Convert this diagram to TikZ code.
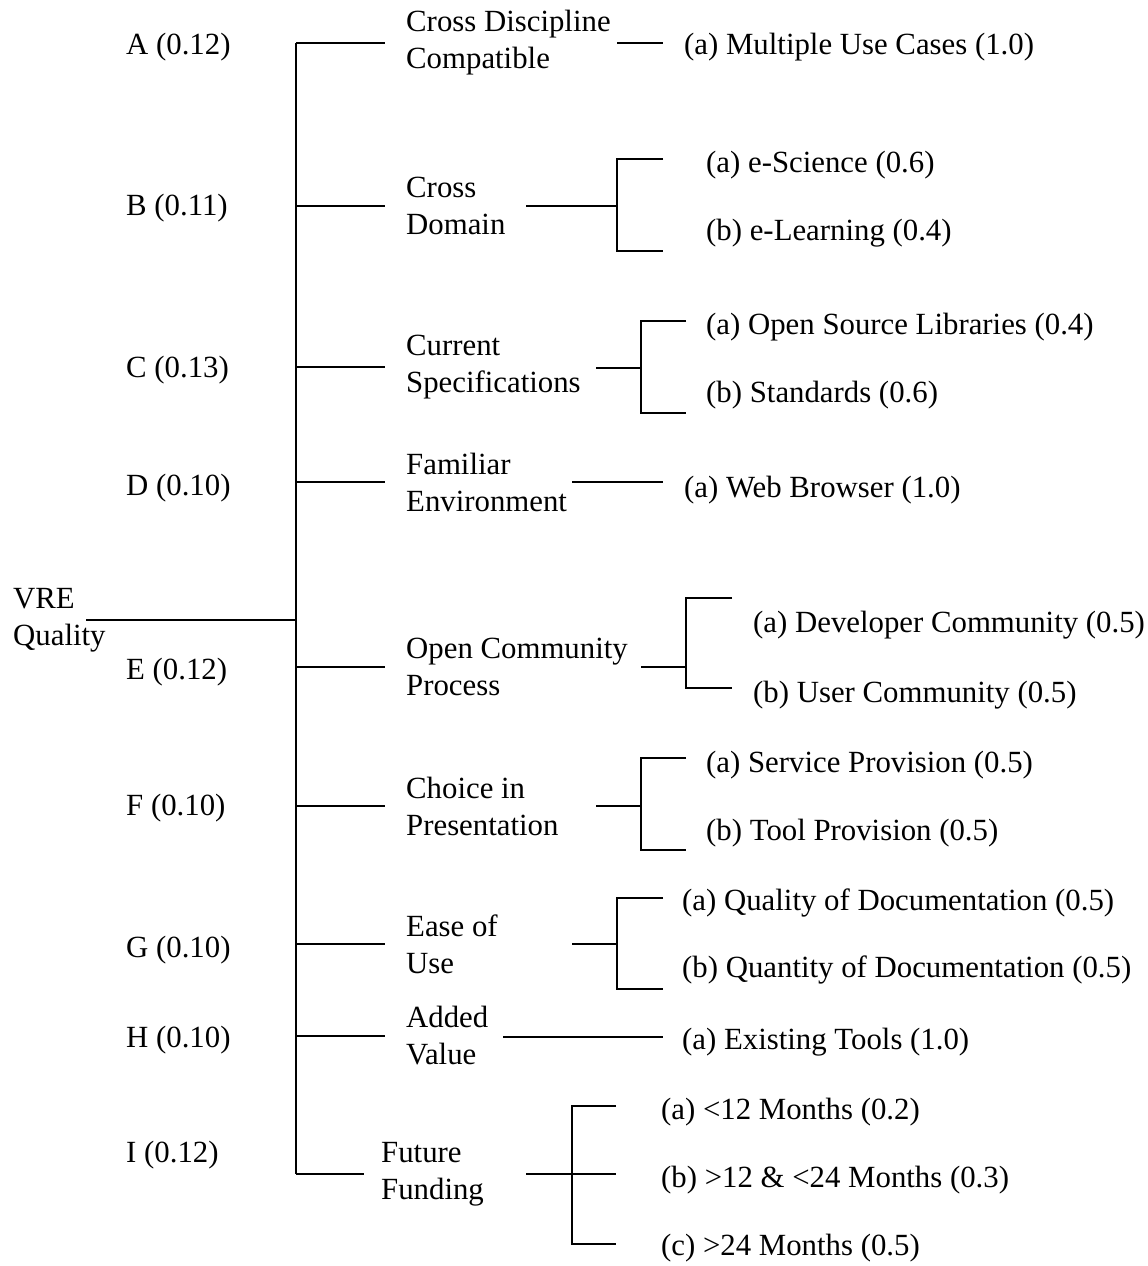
\documentclass[tikz,border=0pt]{standalone}
\usepackage{fontspec}
\setmainfont{Liberation Serif}
\begin{document}
\begin{tikzpicture}[x=1pt,y=-1pt,
  lbl/.style={font=\fontsize{30.8}{37}\selectfont, inner sep=0pt, anchor=west, align=left},
  wire/.style={line width=2pt}]
\useasboundingbox[fill=white] (0,0) rectangle (1148,1266);

% ---- root and spine ----
\node[lbl] (root) at (13,620) {VRE\\Quality};
\coordinate (rootOut) at (86,620);
\coordinate (spTop) at (296,43);
\coordinate (spBot) at (296,1174);
\draw[wire] (spTop) -- (spBot);
\draw[wire] (rootOut) -- (rootOut -| spTop);

% ---- weights ----
\node[lbl] (wA) at (126,47)   {A (0.12)};
\node[lbl] (wB) at (126,208)  {B (0.11)};
\node[lbl] (wC) at (126,370)  {C (0.13)};
\node[lbl] (wD) at (126,488)  {D (0.10)};
\node[lbl] (wE) at (126,672)  {E (0.12)};
\node[lbl] (wF) at (126,808)  {F (0.10)};
\node[lbl] (wG) at (126,950)  {G (0.10)};
\node[lbl] (wH) at (126,1040) {H (0.10)};
\node[lbl] (wI) at (126,1155) {I (0.12)};

% ---- criteria ----
\node[lbl] (cA) at (406,43)   {Cross Discipline\\Compatible};
\node[lbl] (cB) at (406,206)  {Cross\\Domain};
\node[lbl] (cC) at (406,367)  {Current\\Specifications};
\node[lbl] (cD) at (406,482)  {Familiar\\Environment};
\node[lbl] (cE) at (406,667)  {Open Community\\Process};
\node[lbl] (cF) at (406,806)  {Choice in\\Presentation};
\node[lbl] (cG) at (406,944)  {Ease of\\Use};
\node[lbl] (cH) at (406,1036) {Added\\Value};
\node[lbl] (cI) at (381,1174) {Future\\Funding};

\foreach \c in {A,B,C,D,E,F,G,H}
  \draw[wire] (c\c.west -| spTop) -- ([xshift=-21pt]c\c.west);
\draw[wire] (cI.west -| spTop) -- ([xshift=-17pt]cI.west);

% ---- sub-criteria ----
\node[lbl] (lA1) at (684,47)   {(a) Multiple Use Cases (1.0)};
\node[lbl] (lB1) at (706,165)  {(a) e-Science (0.6)};
\node[lbl] (lB2) at (706,233)  {(b) e-Learning (0.4)};
\node[lbl] (lC1) at (706,327)  {(a) Open Source Libraries (0.4)};
\node[lbl] (lC2) at (706,395)  {(b) Standards (0.6)};
\node[lbl] (lD1) at (684,490)  {(a) Web Browser (1.0)};
\node[lbl] (lE1) at (753,625)  {(a) Developer Community (0.5)};
\node[lbl] (lE2) at (753,695)  {(b) User Community (0.5)};
\node[lbl] (lF1) at (706,765)  {(a) Service Provision (0.5)};
\node[lbl] (lF2) at (706,833)  {(b) Tool Provision (0.5)};
\node[lbl] (lG1) at (682,903)  {(a) Quality of Documentation (0.5)};
\node[lbl] (lG2) at (682,970)  {(b) Quantity of Documentation (0.5)};
\node[lbl] (lH1) at (682,1042) {(a) Existing Tools (1.0)};
\node[lbl] (lI1) at (661,1112) {(a) <12 Months (0.2)};
\node[lbl] (lI2) at (661,1180) {(b) >12 \& <24 Months (0.3)};
\node[lbl] (lI3) at (661,1248) {(c) >24 Months (0.5)};

% ---- single links ----
\coordinate (oA) at (617,43);   \coordinate (eA) at (663,43);
\coordinate (oD) at (572,482);  \coordinate (eD) at (663,482);
\coordinate (oH) at (503,1037); \coordinate (eH) at (663,1037);
\draw[wire] (oA) -- (eA);
\draw[wire] (oD) -- (eD);
\draw[wire] (oH) -- (eH);

% ---- forks ----
% B
\coordinate (oB) at (526,206); \coordinate (kB) at (617,206);
\coordinate (tB1) at (663,159); \coordinate (tB2) at (663,251);
\draw[wire] (oB) -- (kB);
\draw[wire] (tB1) -- (tB1 -| kB) -- (tB2 -| kB) -- (tB2);
% C
\coordinate (oC) at (596,368); \coordinate (kC) at (641,368);
\coordinate (tC1) at (686,321); \coordinate (tC2) at (686,413);
\draw[wire] (oC) -- (kC);
\draw[wire] (tC1) -- (tC1 -| kC) -- (tC2 -| kC) -- (tC2);
% E
\coordinate (oE) at (641,667); \coordinate (kE) at (686,667);
\coordinate (tE1) at (732,598); \coordinate (tE2) at (732,688);
\draw[wire] (oE) -- (kE);
\draw[wire] (tE1) -- (tE1 -| kE) -- (tE2 -| kE) -- (tE2);
% F
\coordinate (oF) at (596,806); \coordinate (kF) at (641,806);
\coordinate (tF1) at (686,758); \coordinate (tF2) at (686,850);
\draw[wire] (oF) -- (kF);
\draw[wire] (tF1) -- (tF1 -| kF) -- (tF2 -| kF) -- (tF2);
% G
\coordinate (oG) at (572,944); \coordinate (kG) at (617,944);
\coordinate (tG1) at (663,898); \coordinate (tG2) at (663,989);
\draw[wire] (oG) -- (kG);
\draw[wire] (tG1) -- (tG1 -| kG) -- (tG2 -| kG) -- (tG2);
% I (three-way, stem crosses the bracket)
\coordinate (oI) at (526,1174); \coordinate (eI) at (616,1174);
\coordinate (kI) at (572,1174);
\coordinate (tI1) at (616,1106); \coordinate (tI2) at (616,1244);
\draw[wire] (oI) -- (eI);
\draw[wire] (tI1) -- (tI1 -| kI) -- (tI2 -| kI) -- (tI2);

\end{tikzpicture}
\end{document}
